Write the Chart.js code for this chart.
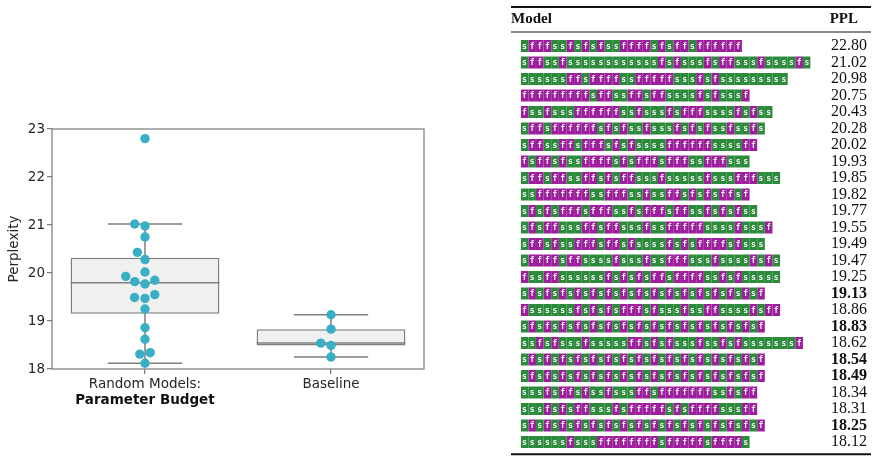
<!DOCTYPE html>
<html><head><meta charset="utf-8">
<script src="https://cdn.jsdelivr.net/npm/chart.js@4"></script>
<style>
html,body{margin:0;padding:0;background:#fff;}
#wrap{position:relative;width:876px;height:464px;overflow:hidden;background:#fff;}
#c1{position:absolute;left:0;top:0;}
#c2{position:absolute;left:470px;top:0;}
</style></head><body>
<div id="wrap"><canvas id="c1" width="470" height="464"></canvas><canvas id="c2" width="406" height="464"></canvas></div>
<script>
// ---------- data ----------
const models = [
  "sfffssfsfsfssffffsfsffsffffff",
  "sffssfssssssssssssfsfsssfsffsssfssssfs",
  "ssssssffsffffssfffffsssfsfsssssssss",
  "fffffffffsffssffsffssssfsfsssf",
  "fssfsssffffffssfsssfsfffssssfsfss",
  "sffsffffffsfsfssfsssfsfsfssfssfs",
  "sffssffsfffsfsfssssffffffssssff",
  "fsffsfssffffsfsfffsfffssfffsss",
  "sffsffssffsfsffsssfsssssfsssfffsss",
  "ssfffffffssfffssfssffsfsfsffsf",
  "sfsfsfffsfffssfsfffsffssfsfsfss",
  "sfsffsssffsffsssfssfffffssssfsssf",
  "sffsfssfffsffsfssssfsfsffffsfsss",
  "sffffsffssssfsssfssfffsssfssssfsfs",
  "fssffssssssfsfsfsffsffffssfsfsssss",
  "sfsfsfsfsfsfsfsfsfsfsfsfsfsfsfsf",
  "fssssssfsfsfsfffsfsssfssffssssfsff",
  "sfsfsfsfsfsfsfsfsfsfsfsfsfsfsfsf",
  "ssfsfsssfsssssffsfsfsssfssfsfsssssssf",
  "sfsfsfsfsfsfsfsfsfsfsfsfsfsfsfsf",
  "sfsfsfsfsfsfsfsfsfsfsfsfsfsfsfsf",
  "sssfsffsfssfsssffsfffffffssfsff",
  "sssfsfsffsssfsfffffsfsffffsssff",
  "sfsfsfsfsfsfsfsfsfsfsfsfsfsfsfsf",
  "ssssssfsssffffffffsfffffsffffs"
];
const ppl = [22.80, 21.02, 20.98, 20.75, 20.43, 20.28, 20.02, 19.93, 19.85, 19.82,
             19.77, 19.55, 19.49, 19.47, 19.25, 19.13, 18.86, 18.83, 18.62, 18.54,
             18.49, 18.34, 18.31, 18.25, 18.12];
const isBaseline = [0,0,0,0,0,0,0,0,0,0, 0,0,0,0,0,1,0,1,0,1, 1,0,0,1,0];
const headers = ["Model", "PPL"];
const catLine1 = ["Random Models:", "Baseline"];
const catLine2 = ["Parameter Budget", ""];
const yTicks = [18, 19, 20, 21, 22, 23];
const yTitle = "Perplexity";

const groupValues = [
  ppl.filter((v, i) => !isBaseline[i]),
  ppl.filter((v, i) => isBaseline[i])
];

// ---------- styles ----------
const GREEN = '#2b8b3b', PURPLE = '#9d1f9d';
const DOT = '#38afc4', EDGE = '#7f7f7f', BOXFILL = '#f0f0f0', TXT = '#262626';
const FONT = 'DejaVu Sans';

// ---------- box stats ----------
function quantile(s, p) {
  const pos = (s.length - 1) * p, lo = Math.floor(pos), hi = Math.ceil(pos);
  return s[lo] + (s[hi] - s[lo]) * (pos - lo);
}
function stats(vals) {
  const s = [...vals].sort((a, b) => a - b);
  const q1 = quantile(s, .25), med = quantile(s, .5), q3 = quantile(s, .75), iqr = q3 - q1;
  const lo = s.find(v => v >= q1 - 1.5 * iqr);
  const hi = [...s].reverse().find(v => v <= q3 + 1.5 * iqr);
  return {q1, med, q3, lo, hi};
}
const st = groupValues.map(stats);

const boxData = st.map((b, i) => ({x: i, y: [b.q1, b.q3]}));
const lineData = [];
st.forEach((b, i) => {
  const gap = {x: i, y: null};
  lineData.push({x: i, y: b.q3}, {x: i, y: b.hi}, gap);
  lineData.push({x: i, y: b.q1}, {x: i, y: b.lo}, gap);
  lineData.push({x: i - 0.2, y: b.hi}, {x: i + 0.2, y: b.hi}, gap);
  lineData.push({x: i - 0.2, y: b.lo}, {x: i + 0.2, y: b.lo}, gap);
  lineData.push({x: i - 0.4, y: b.med}, {x: i + 0.4, y: b.med}, gap);
});
const pointData = [];
groupValues.forEach((vals, g) => vals.forEach(v => pointData.push({x: g, y: v, g})));

const frame = {
  id: 'frame',
  afterDraw(chart) {
    const a = chart.chartArea, ctx = chart.ctx;
    ctx.save(); ctx.strokeStyle = EDGE; ctx.lineWidth = 1.25;
    ctx.strokeRect(a.left, a.top, a.right - a.left, a.bottom - a.top);
    ctx.restore();
  }
};

const tickFont = {family: FONT, size: 13.5};
const c1 = new Chart(document.getElementById('c1'), {
  data: {
    datasets: [
      {type: 'scatter', data: pointData, backgroundColor: DOT, borderColor: DOT, pointRadius: 4.7, borderWidth: 0, order: 0},
      {type: 'line', data: lineData, borderColor: EDGE, borderWidth: 1.5, pointRadius: 0, spanGaps: false, fill: false, order: 1},
      {type: 'bar', data: boxData, backgroundColor: BOXFILL, borderColor: EDGE, borderWidth: 1.5, borderSkipped: false,
       categoryPercentage: 0.8, barPercentage: 1, order: 2}
    ]
  },
  options: {
    responsive: false, animation: false,
    layout: {padding: {left: 0, right: 46, top: 129, bottom: 52}},
    plugins: {legend: {display: false}, tooltip: {enabled: false}},
    scales: {
      x: {type: 'linear', min: -0.5, max: 1.5, position: 'bottom', weight: 0, offset: false,
          afterBuildTicks: s => { s.ticks = catLine1.map((c, i) => ({value: i})); },
          ticks: {callback: (v, i) => catLine1[i], font: tickFont, color: TXT, padding: 2, maxRotation: 0, autoSkip: false},
          grid: {display: true, offset: false, drawOnChartArea: false, drawTicks: true, tickLength: 5, color: EDGE, lineWidth: 1.25},
          border: {display: false},
          afterFit: s => { s.height = 23; }},
      x2: {type: 'linear', min: -0.5, max: 1.5, position: 'bottom', weight: 1, offset: false,
          afterBuildTicks: s => { s.ticks = catLine2.map((c, i) => ({value: i})); },
          ticks: {callback: (v, i) => catLine2[i], font: {family: FONT, size: 13.5, weight: 'bold'}, color: '#111', padding: 0, maxRotation: 0, autoSkip: false},
          grid: {display: false, offset: false, drawTicks: false, tickLength: 0}, border: {display: false},
          afterFit: s => { s.height = 20; }},
      y: {type: 'linear', min: yTicks[0], max: yTicks[yTicks.length - 1], position: 'left',
          afterBuildTicks: s => { s.ticks = yTicks.map(v => ({value: v})); },
          ticks: {font: tickFont, color: TXT, padding: 2},
          grid: {display: true, drawOnChartArea: false, drawTicks: true, tickLength: 5, color: EDGE, lineWidth: 1.25},
          border: {display: false},
          title: {display: true, text: yTitle, font: tickFont, color: TXT, padding: {top: 6, bottom: 0}},
          afterFit: s => { s.width = 52; }}
    }
  },
  plugins: [frame]
});

// beeswarm placement (seaborn-like) in pixel space
(function swarm() {
  const xs = c1.scales.x, ys = c1.scales.y;
  const pxUnit = xs.getPixelForValue(1) - xs.getPixelForValue(0);
  const d = 10.5;
  groupValues.forEach((vals, g) => {
    const pts = pointData.filter(p => p.g === g).sort((a, b) => a.y - b.y);
    const placed = [];
    pts.forEach(p => {
      const py = ys.getPixelForValue(p.y);
      const cands = [0];
      placed.forEach(q => {
        const dy = Math.abs(q.py - py);
        if (dy < d) { const dx = Math.sqrt(d * d - dy * dy); cands.push(q.px - dx, q.px + dx); }
      });
      cands.sort((a, b) => Math.abs(a) - Math.abs(b) || a - b);
      let best = 0;
      for (const c of cands) {
        if (placed.every(q => (q.px - c) ** 2 + (q.py - py) ** 2 >= d * d - 1e-6)) { best = c; break; }
      }
      placed.push({px: best, py});
      p.x = g + best / pxUnit;
    });
  });
  c1.update('none');
})();

// ---------- table chart ----------
const nCols = Math.max(...models.map(m => m.length));
const pplLabels = ppl.map(v => v.toFixed(2));
const cellDatasets = Array.from({length: nCols}, (_, k) => ({
  type: 'bar',
  data: models.map(m => k < m.length ? [k, k + 1] : null),
  backgroundColor: models.map(m => m[k] === 's' ? GREEN : PURPLE),
  borderWidth: 0, grouped: false, barPercentage: 0.73, categoryPercentage: 1
}));

const letters = {
  id: 'letters',
  afterDatasetsDraw(chart) {
    const ctx = chart.ctx;
    ctx.save();
    ctx.fillStyle = '#f4f4f4'; ctx.font = 'bold 8px "DejaVu Sans Mono"';
    ctx.textAlign = 'center'; ctx.textBaseline = 'middle';
    chart.data.datasets.forEach((ds, k) => {
      const meta = chart.getDatasetMeta(k);
      meta.data.forEach((el, r) => {
        if (ds.data[r] == null) return;
        const p = el.getProps(['x', 'base', 'y'], true);
        ctx.fillText(models[r][k], (p.x + p.base) / 2, p.y + 0.5);
      });
    });
    ctx.restore();
  }
};
const rules = {
  id: 'rules',
  afterDraw(chart) {
    const ctx = chart.ctx, a = chart.chartArea;
    const L = chart.scales.y.left, R = chart.scales.yR.right + 4;
    ctx.save(); ctx.fillStyle = '#111';
    ctx.fillRect(L, a.top - 31.75, R - L, 2);
    ctx.fillRect(L, a.top - 6.25, R - L, 1);
    ctx.fillRect(L, a.bottom + 3, R - L, 2);
    ctx.font = 'bold 15px "Liberation Serif"'; ctx.textBaseline = 'middle';
    ctx.textAlign = 'left'; ctx.fillText(headers[0], L, a.top - 18.75);
    ctx.textAlign = 'right'; ctx.fillText(headers[1], chart.scales.yR.right - 9, a.top - 18.75);
    ctx.restore();
  }
};

new Chart(document.getElementById('c2'), {
  data: {labels: models, datasets: cellDatasets},
  options: {
    responsive: false, animation: false, indexAxis: 'y',
    layout: {padding: {left: 41, right: 9, top: 37.75, bottom: 13.75}},
    plugins: {legend: {display: false}, tooltip: {enabled: false}},
    scales: {
      x: {type: 'linear', min: 0, max: nCols, display: false},
      y: {type: 'category', position: 'left', offset: true,
          ticks: {display: false, autoSkip: false}, grid: {display: false}, border: {display: false},
          afterFit: s => { s.width = 9.7; }},
      yR: {type: 'category', labels: pplLabels, position: 'right', offset: true,
          ticks: {crossAlign: 'far', padding: 0, color: '#111', autoSkip: false,
                  font: ctx => ({family: 'Liberation Serif', size: 16, weight: isBaseline[ctx.index] ? 'bold' : 'normal'})},
          grid: {display: false, drawTicks: false}, border: {display: false},
          afterFit: s => { s.width = 56.4; }}
    }
  },
  plugins: [letters, rules]
});
</script>
</body></html>
